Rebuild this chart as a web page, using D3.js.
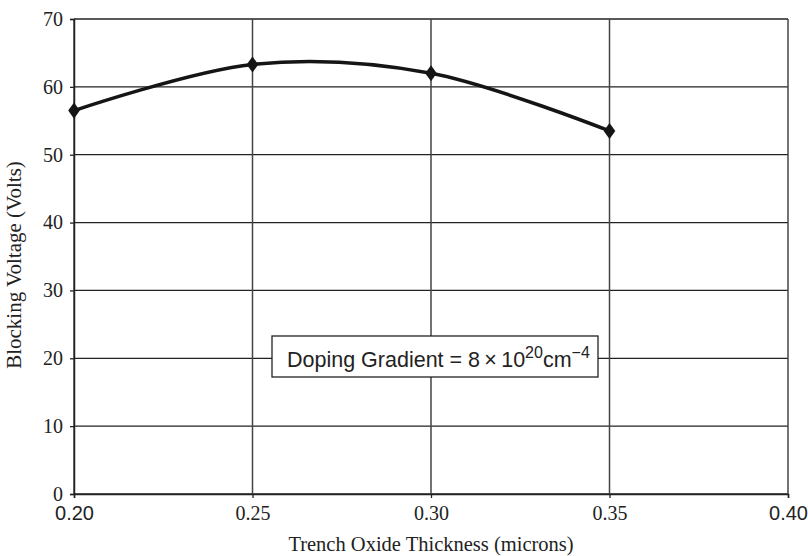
<!DOCTYPE html>
<html><head><meta charset="utf-8">
<script src="https://cdn.jsdelivr.net/npm/d3@7"></script>
<style>body{margin:0;background:#fff}svg{display:block}</style>
</head><body><svg id="c" width="808" height="556"></svg>
<script>
const thickness = [0.20, 0.25, 0.30, 0.35];
const voltage = [56.5, 63.3, 62.0, 53.5];
const xTicks = [0.20, 0.25, 0.30, 0.35, 0.40];
const yTicks = [0, 10, 20, 30, 40, 50, 60, 70];
const xTitle = "Trench Oxide Thickness (microns)";
const yTitle = "Blocking Voltage (Volts)";

const svg = d3.select("#c");
const L = 74, R = 788, T = 19, B = 494;
const x = d3.scaleLinear().domain([0.20, 0.40]).range([L, R]);
const y = d3.scaleLinear().domain([0, 70]).range([B, T]);
const serif = "'Liberation Serif','Times New Roman',serif";
const sans = "'Liberation Sans',Arial,sans-serif";

// horizontal grid
svg.append("g").selectAll("line").data(yTicks).join("line")
  .attr("x1", L).attr("x2", R).attr("y1", d => y(d)).attr("y2", d => y(d))
  .attr("stroke", "#222").attr("stroke-width", 1.3);
// vertical grid
svg.append("g").selectAll("line").data(xTicks).join("line")
  .attr("x1", d => x(d)).attr("x2", d => x(d)).attr("y1", T).attr("y2", B)
  .attr("stroke", "#444").attr("stroke-width", 1.5);

// axes
const yAxis = svg.append("g").attr("transform", `translate(${L},0)`)
  .call(d3.axisLeft(y).tickValues(yTicks).tickSize(4).tickPadding(7).tickFormat(d3.format("d")));
yAxis.select(".domain").attr("stroke", "#222").attr("stroke-width", 1.5);
yAxis.selectAll(".tick line").attr("stroke", "#222").attr("stroke-width", 1.3);
yAxis.selectAll("text").attr("font-family", serif).attr("font-size", 20).attr("fill", "#222");

const xAxis = svg.append("g").attr("transform", `translate(0,${B})`)
  .call(d3.axisBottom(x).tickValues(xTicks).tickSize(4).tickPadding(8).tickFormat(d3.format(".2f")));
xAxis.select(".domain").attr("stroke", "#222").attr("stroke-width", 1.5);
xAxis.selectAll(".tick line").attr("stroke", "#222").attr("stroke-width", 1.3);
xAxis.selectAll("text")
  .attr("font-family", (d, i) => (i === 0 || i === xTicks.length - 1) ? sans : serif)
  .attr("font-size", 20).attr("fill", "#222");

// titles
svg.append("text").attr("x", (L + R) / 2).attr("y", 551).attr("text-anchor", "middle")
  .attr("font-family", serif).attr("font-size", 20.5).attr("fill", "#222").text(xTitle);
svg.append("text").attr("transform", `translate(21,265) rotate(-90)`)
  .attr("text-anchor", "middle").attr("font-family", serif).attr("font-size", 21)
  .attr("fill", "#222").text(yTitle);

// line
const pts = thickness.map((t, i) => [t, voltage[i]]);
svg.append("path").datum(pts)
  .attr("d", d3.line().x(d => x(d[0])).y(d => y(d[1])).curve(d3.curveCardinal.tension(0)))
  .attr("fill", "none").attr("stroke", "#151515").attr("stroke-width", 3.5);
svg.append("g").selectAll("path").data(pts).join("path")
  .attr("d", d3.symbol(d3.symbolDiamond, 75))
  .attr("transform", d => `translate(${x(d[0])},${y(d[1])}) scale(1.25,1)`)
  .attr("fill", "#151515");

// annotation box
const box = svg.append("g");
box.append("rect").attr("x", 272).attr("y", 336).attr("width", 326).attr("height", 41)
  .attr("fill", "#fff").attr("stroke", "#222").attr("stroke-width", 1.3);
const t = box.append("text").attr("x", 287).attr("y", 366.5)
  .attr("font-family", sans).attr("font-size", 21.5).attr("fill", "#222");
t.append("tspan").text("Doping Gradient = 8\u2009\u00d7\u200910");
t.append("tspan").attr("dy", -9).attr("font-size", 16).text("20");
t.append("tspan").attr("dy", 9).text("cm");
t.append("tspan").attr("dy", -9).attr("font-size", 16).text("\u22124");
</script></body></html>
